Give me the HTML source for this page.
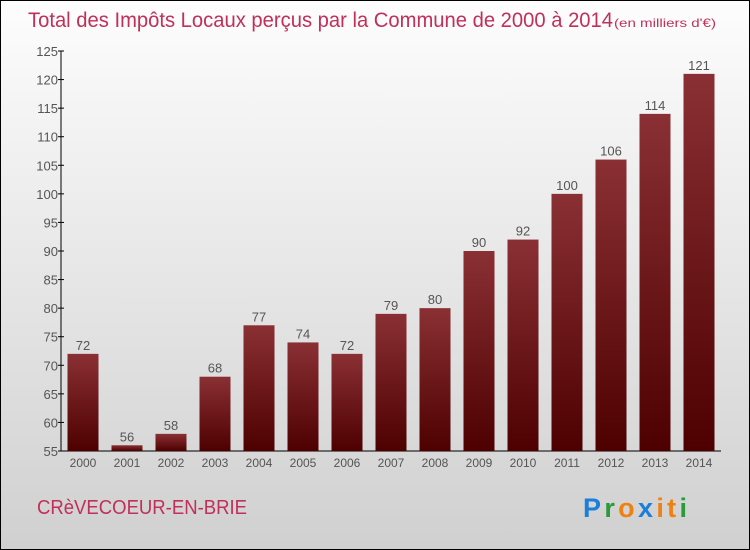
<!DOCTYPE html>
<html><head><meta charset="utf-8"><style>
body{margin:0}
#c{position:relative;width:748px;height:548px;border:1px solid #000;background:linear-gradient(#fdfdfd,#d0d0d0);font-family:"Liberation Sans",sans-serif;overflow:hidden}
</style></head><body>
<div id="c">
<svg width="748" height="548" xmlns="http://www.w3.org/2000/svg">
<defs><linearGradient id="g" x1="0" y1="0" x2="0" y2="1"><stop offset="0" stop-color="#8a3034"/><stop offset="1" stop-color="#4e0000"/></linearGradient></defs>
<text x="27" y="26" font-size="21" fill="#c0305a" textLength="585" lengthAdjust="spacingAndGlyphs">Total des Impôts Locaux perçus par la Commune de 2000 à 2014</text>
<text x="613" y="26" font-size="12" fill="#c0305a" textLength="102" lengthAdjust="spacingAndGlyphs">(en milliers d'€)</text>
<g id="plot"></g>
<text x="36" y="513" font-size="20" fill="#c0305a" textLength="210" lengthAdjust="spacingAndGlyphs">CRèVECOEUR-EN-BRIE</text>
<text x="582" y="516" font-size="27" font-weight="bold" textLength="104" lengthAdjust="spacing"><tspan fill="#1a7fd8">P</tspan><tspan fill="#2a9a3a">r</tspan><tspan fill="#f08010">o</tspan><tspan fill="#1a7fd8">x</tspan><tspan fill="#f08010">it</tspan><tspan fill="#2a9a3a">i</tspan></text>
</svg>
</div>
<script>
const years=["2000","2001","2002","2003","2004","2005","2006","2007","2008","2009","2010","2011","2012","2013","2014"];
const values=[72,56,58,68,77,74,72,79,80,90,92,100,106,114,121];
const yTicks=[55,60,65,70,75,80,85,90,95,100,105,110,115,120,125];
const NS="http://www.w3.org/2000/svg";
const g=document.getElementById('plot');
const y0=450,y1=50,vmin=55,vmax=125;
const ys=v=>y0-(v-vmin)*(y0-y1)/(vmax-vmin);
const xs=i=>82+i*44;
function mk(t,a,txt){const e=document.createElementNS(NS,t);for(const k in a)e.setAttribute(k,a[k]);if(txt!==undefined)e.textContent=txt;g.appendChild(e);return e;}
let e=mk('line',{x1:60,y1:y1,x2:60,y2:y0,stroke:'#000'});


e=mk('line',{x1:60,y1:y0,x2:720,y2:y0,stroke:'#000'});


yTicks.forEach(v=>{
 const y=ys(v);
 const t=mk('line',{x1:57,y1:y,x2:63,y2:y,stroke:'#000'});
 
 
 const l=mk('text',{x:57,y:y+5,'text-anchor':'end','font-size':13,fill:'#555'},v);
 
 
});
years.forEach((yr,i)=>{
 const x=xs(i),y=ys(values[i]);
 const b=mk('rect',{x:x-15.5,y:y,width:31,height:y0-y,fill:'url(#g)'});
 
 
 const v=mk('text',{x:x,y:y-4,'text-anchor':'middle','font-size':13,fill:'#555'},values[i]);
 
 
 const l=mk('text',{x:x,y:466,'text-anchor':'middle','font-size':12,fill:'#555'},yr);
 
 
});
</script>
</body></html>
